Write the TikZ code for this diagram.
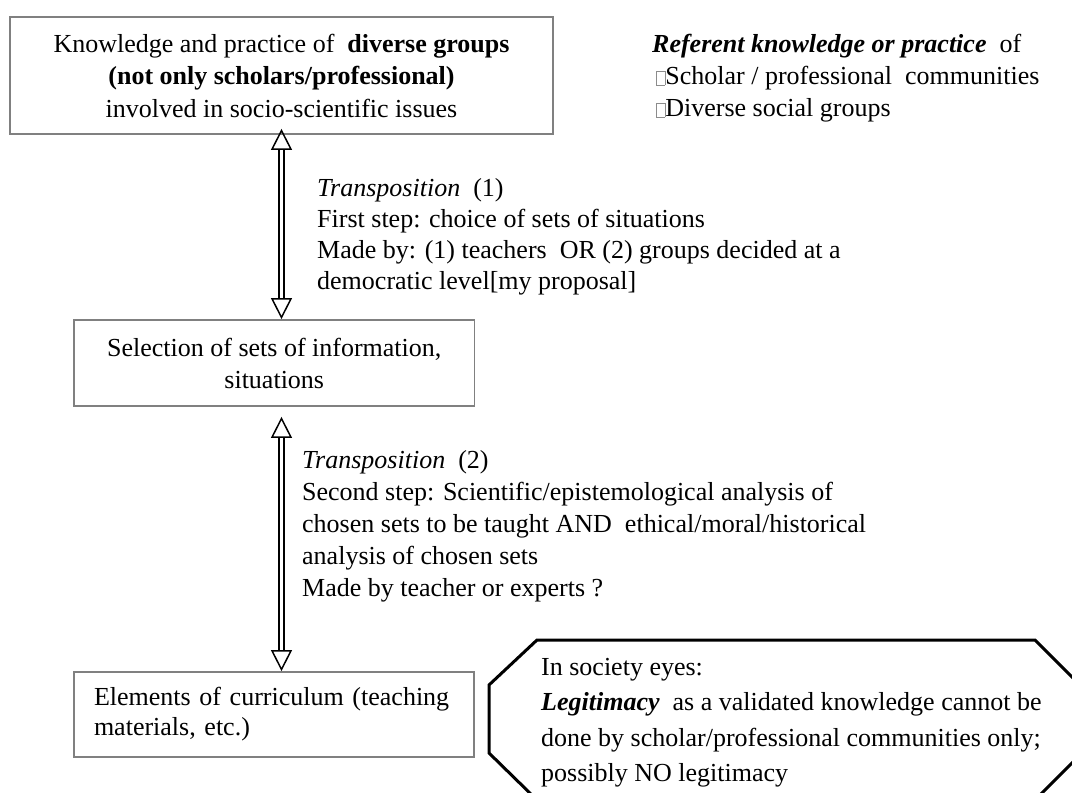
\documentclass[tikz,border=0pt]{standalone}
\usepackage{fontspec}
\setmainfont{Liberation Serif}
\usetikzlibrary{arrows.meta}
\newcommand\mbx{{\color{black!45}\setlength{\fboxsep}{0pt}\setlength{\fboxrule}{0.6pt}\fbox{\rule{0pt}{13pt}\rule{8pt}{0pt}}}}
\begin{document}
\begin{tikzpicture}[x=1pt,y=-1pt,
  gbox/.style={draw=black!50, line width=1.8pt, inner sep=0pt},
  txt/.style={anchor=north west, inner sep=0pt, align=left},
  tipline/.style={draw=black, line width=1.5pt,
    {Triangle[open,length=21pt,width=21pt]}-{Triangle[open,length=21pt,width=21pt]}},
  dbl/.style={draw=black, line width=1.5pt, double=white, double distance=3.5pt,
    shorten >=21pt, shorten <=21pt},
  octo/.style={draw=black, line width=3pt, line join=miter}]
\useasboundingbox (0,0) rectangle (1072,793);
\fill[white] (0,0) rectangle (1072,793);

\node[gbox, minimum width=543pt, minimum height=117pt, align=center,
  font=\fontsize{26}{32.5}\selectfont] (b1) at (281.5,75.5)
  {Knowledge and practice of\ \ \textbf{diverse groups}\\
   \textbf{(not only scholars/professional)}\\
   involved in socio-scientific issues};

\node[gbox, minimum width=400.5pt, minimum height=86pt, align=center,
  font=\fontsize{26}{32}\selectfont] (b2) at (274.25,363)
  {Selection of sets of information,\\ situations};

\node[gbox, minimum width=400pt, minimum height=85pt, inner xsep=20pt,
  text width=360pt, align=left,
  font=\fontsize{26}{30}\selectfont] (b3) at (274,714.5)
  {Elements of curriculum (teaching\\ materials, etc.)};

\node[txt, font=\fontsize{26}{32}\selectfont] (ref) at (652,34)
  {\textbf{\textit{Referent knowledge or practice}}\ \ of\\
   \hspace*{4pt}\mbx Scholar / professional\ \ communities\\
   \hspace*{4pt}\mbx Diverse social groups};

\node[txt, font=\fontsize{26}{31}\selectfont] (t1) at (317,178)
  {\textit{Transposition}\ \ (1)\\
   First step: choice of sets of situations\\
   Made by: (1) teachers\ \ OR (2) groups decided at a\\
   democratic level[my proposal]};

\node[txt, font=\fontsize{26}{32}\selectfont] (t2) at (302,450)
  {\textit{Transposition}\ \ (2)\\
   Second step: Scientific/epistemological analysis of\\
   chosen sets to be taught AND\ \ ethical/moral/historical\\
   analysis of chosen sets\\
   Made by teacher or experts ?};

\path (b1.south) ++(0,-6) coordinate (a1top);
\path (b1.south |- b2.north) coordinate (a1bot);
\path (b1.south |- b2.south) ++(0,10) coordinate (a2top);
\path (b1.south |- b3.north) coordinate (a2bot);

\draw[tipline] (a1top) -- (a1bot);
\draw[dbl] (a1top) -- (a1bot);
\draw[tipline] (a2top) -- (a2bot);
\draw[dbl] (a2top) -- (a2bot);

\begin{scope}
  \clip (0,0) rectangle (1072,793);
  \draw[octo] (537,640) -- (1035,640) -- (1082,687) -- (1082,753)
    -- (1035,800) -- (537,800) -- (489,753) -- (489,685) -- cycle;
\end{scope}
\node[txt, font=\fontsize{26}{35.5}\selectfont] (soc) at (541,658)
  {In society eyes:\\
   \textbf{\textit{Legitimacy}}\ \ as a validated knowledge cannot be\\
   done by scholar/professional communities only;\\
   possibly NO legitimacy};
\end{tikzpicture}
\end{document}
